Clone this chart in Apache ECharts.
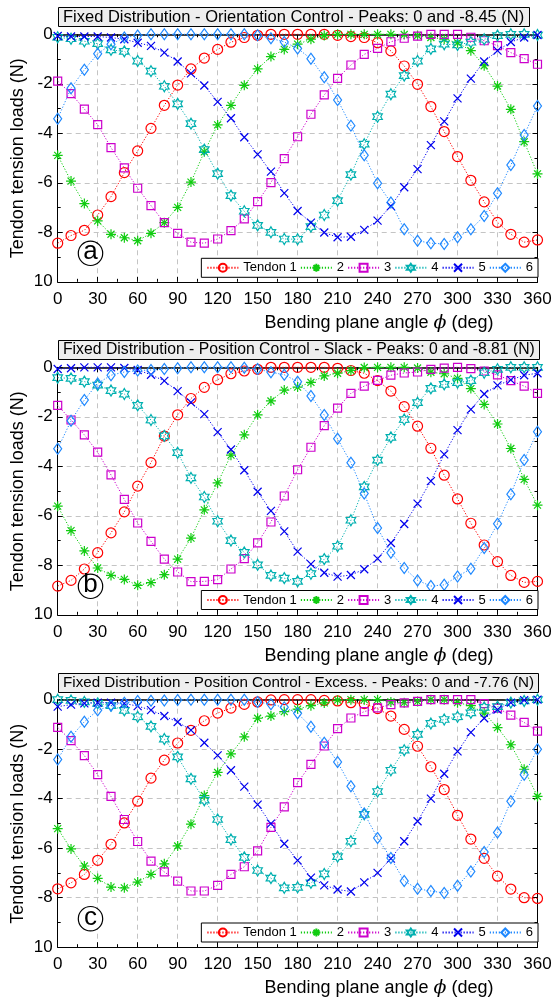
<!DOCTYPE html>
<html><head><meta charset="utf-8">
<script src="https://cdn.jsdelivr.net/npm/echarts@6/dist/echarts.min.js"></script>
<style>html,body{margin:0;padding:0;background:#fff}#c{width:553px;height:1002px}</style>
</head><body><div id="c"></div>
<script>
// ---------- data ----------
const angles = [0,10,20,30,40,50,60,70,80,90,100,110,120,130,140,150,160,170,180,190,200,210,220,230,240,250,260,270,280,290,300,310,320,330,340,350,360];
const xTickLabels = ['0','30','60','90','120','150','180','210','240','270','300','330','360'];
const yTickValues = [0,-2,-4,-6,-8,-10];
const yTickLabels = ['0','-2','-4','-6','-8','10'];
const tendonNames = ['Tendon 1','2','3','4','5','6'];
const panelTitles = [
  'Fixed Distribution - Orientation Control - Peaks: 0 and -8.45 (N)',
  'Fixed Distribution - Position Control - Slack - Peaks: 0 and -8.81 (N)',
  'Fixed Distribution - Position Control - Excess. - Peaks: 0 and -7.76 (N)'
];
const panelLetters = ['a','b','c'];
const yAxisName = 'Tendon tension loads (N)';

// panel a : orientation control
const aT1 = [-8.44,-8.13,-7.92,-7.30,-6.56,-5.59,-4.71,-3.80,-2.87,-2.05,-1.40,-0.96,-0.61,-0.32,-0.13,-0.04,0,0,0,0,0,-0.04,-0.09,-0.13,-0.34,-0.67,-1.28,-2.02,-2.92,-3.93,-4.94,-5.90,-6.77,-7.60,-8.08,-8.40,-8.31];
const aT2 = [-4.89,-5.93,-6.84,-7.54,-8.08,-8.22,-8.34,-8.04,-7.61,-6.99,-5.97,-4.75,-3.66,-2.87,-2.06,-1.40,-0.90,-0.61,-0.40,-0.20,-0.05,0,0,0,0,0,-0.01,-0.05,-0.13,-0.20,-0.34,-0.66,-1.27,-2.09,-3.03,-4.34,-5.64];
const aT3 = [-1.89,-2.40,-3.02,-3.65,-4.58,-5.40,-6.22,-6.92,-7.61,-8.04,-8.40,-8.44,-8.27,-7.93,-7.46,-6.76,-5.99,-5.02,-4.14,-3.23,-2.45,-1.78,-1.24,-0.81,-0.57,-0.30,-0.16,-0.07,0,0,0,-0.12,-0.26,-0.46,-0.74,-0.98,-1.21];
const aT4 = [-0.12,-0.18,-0.28,-0.38,-0.63,-0.69,-1.08,-1.49,-2.10,-2.81,-3.61,-4.66,-5.63,-6.52,-7.15,-7.72,-8.00,-8.27,-8.28,-7.77,-7.30,-6.72,-5.67,-4.44,-3.33,-2.42,-1.67,-1.08,-0.59,-0.40,-0.43,-0.32,-0.20,-0.05,0,0,-0.03];
const aT5 = [-0.07,-0.09,-0.09,-0.09,-0.13,-0.20,-0.34,-0.47,-0.74,-1.10,-1.58,-2.07,-2.73,-3.39,-4.16,-4.85,-5.55,-6.42,-7.14,-7.61,-8.01,-8.20,-8.18,-7.90,-7.53,-6.94,-6.18,-5.45,-4.48,-3.52,-2.59,-1.79,-1.10,-0.66,-0.31,-0.13,-0.03];
const aT6 = [-3.41,-2.18,-1.43,-0.79,-0.40,-0.13,-0.05,0,0,0,0,0,0,0,0,-0.04,-0.16,-0.31,-0.57,-0.99,-1.74,-2.65,-3.69,-4.89,-6.02,-6.80,-7.88,-8.34,-8.44,-8.47,-8.20,-7.88,-7.34,-6.42,-5.28,-4.07,-2.90];

// panel b : position control, slack
const bT1 = [-8.84,-8.61,-8.15,-7.49,-6.69,-5.84,-4.80,-3.85,-2.78,-1.92,-1.26,-0.81,-0.50,-0.26,-0.15,-0.08,0,0,0,0,0,-0.04,-0.13,-0.24,-0.54,-0.96,-1.59,-2.38,-3.27,-4.36,-5.32,-6.30,-7.18,-7.85,-8.41,-8.69,-8.65];
const bT2 = [-5.61,-6.60,-7.42,-8.11,-8.41,-8.57,-8.81,-8.70,-8.38,-7.75,-6.90,-5.76,-4.67,-3.55,-2.73,-1.92,-1.36,-0.92,-0.80,-0.61,-0.35,-0.24,-0.13,-0.01,0,0,0,-0.03,-0.20,-0.26,-0.45,-0.86,-1.50,-2.29,-3.28,-4.53,-5.57];
const bT3 = [-1.54,-2.13,-2.73,-3.43,-4.35,-5.34,-6.29,-7.03,-7.75,-8.27,-8.66,-8.65,-8.58,-8.15,-7.73,-7.09,-6.25,-5.20,-4.14,-3.23,-2.36,-1.65,-1.05,-0.76,-0.53,-0.32,-0.23,-0.19,-0.08,-0.03,0,-0.05,-0.15,-0.31,-0.54,-0.76,-1.05];
const bT4 = [-0.42,-0.45,-0.58,-0.72,-0.94,-1.08,-1.54,-2.13,-2.77,-3.45,-4.47,-5.24,-6.22,-7.00,-7.48,-7.98,-8.41,-8.52,-8.65,-8.34,-7.75,-7.23,-6.18,-4.83,-3.75,-2.83,-2.11,-1.43,-0.85,-0.69,-0.62,-0.54,-0.22,-0.08,0,0,0];
const bT5 = [-0.07,-0.04,0,0,0,-0.03,-0.11,-0.30,-0.55,-0.96,-1.42,-1.89,-2.62,-3.32,-4.16,-5.03,-5.80,-6.63,-7.45,-7.95,-8.30,-8.46,-8.39,-8.16,-7.73,-7.10,-6.33,-5.51,-4.60,-3.52,-2.54,-1.70,-1.08,-0.73,-0.51,-0.32,-0.24];
const bT6 = [-3.29,-2.16,-1.32,-0.65,-0.32,-0.19,-0.13,-0.11,-0.07,-0.04,0,0,0,0,-0.02,-0.07,-0.20,-0.30,-0.58,-1.16,-1.93,-2.89,-3.86,-5.10,-6.49,-7.49,-8.11,-8.61,-8.84,-8.79,-8.45,-8.14,-7.30,-6.32,-5.13,-3.75,-2.60];

// panel c : position control, excess
const cT1 = [-7.64,-7.40,-7.06,-6.49,-5.84,-4.98,-4.10,-3.17,-2.44,-1.75,-1.24,-0.85,-0.54,-0.34,-0.19,-0.09,-0.01,0,0,0,-0.03,-0.05,-0.12,-0.16,-0.36,-0.66,-1.20,-1.88,-2.71,-3.63,-4.67,-5.63,-6.41,-7.13,-7.65,-8.00,-8.03];
const cT2 = [-5.21,-6.03,-6.72,-7.22,-7.57,-7.60,-7.37,-7.06,-6.63,-5.91,-5.03,-3.87,-2.94,-2.19,-1.50,-0.75,-0.66,-0.48,-0.38,-0.24,-0.13,-0.02,0,0,0,-0.09,-0.12,-0.07,0,0,-0.12,-0.24,-0.54,-1.13,-1.82,-2.81,-3.91];
const cT3 = [-1.12,-1.65,-2.26,-3.03,-3.91,-4.84,-5.73,-6.52,-6.96,-7.33,-7.73,-7.73,-7.50,-7.06,-6.75,-6.11,-5.16,-4.33,-3.35,-2.61,-1.87,-1.17,-0.74,-0.48,-0.33,-0.20,-0.13,-0.07,0,0,0,0,-0.16,-0.34,-0.62,-0.92,-1.27];
const cT4 = [0,-0.03,-0.09,-0.15,-0.24,-0.43,-0.69,-1.08,-1.59,-2.31,-3.20,-4.06,-4.84,-5.65,-6.37,-6.90,-7.21,-7.60,-7.58,-7.40,-7.04,-6.34,-5.72,-4.63,-3.71,-2.85,-2.04,-1.40,-0.96,-0.80,-0.69,-0.53,-0.31,-0.28,-0.12,-0.05,0];
const cT5 = [-0.28,-0.20,-0.15,-0.12,-0.12,-0.15,-0.26,-0.42,-0.66,-0.90,-1.23,-1.74,-2.25,-2.85,-3.51,-4.24,-5.01,-5.82,-6.49,-7.19,-7.50,-7.67,-7.75,-7.38,-7.00,-6.42,-5.72,-4.91,-4.00,-2.99,-2.09,-1.32,-0.75,-0.40,-0.12,-0.02,0];
const cT6 = [-2.42,-1.50,-0.89,-0.43,-0.24,-0.12,-0.05,-0.04,-0.03,-0.01,0,0,0,0,0,-0.09,-0.18,-0.31,-0.55,-1.09,-1.74,-2.52,-3.50,-4.60,-5.59,-6.40,-7.33,-7.64,-7.73,-7.81,-7.52,-6.94,-6.15,-5.37,-4.10,-3.03,-2.00];

const panels = [[aT1,aT2,aT3,aT4,aT5,aT6],[bT1,bT2,bT3,bT4,bT5,bT6],[cT1,cT2,cT3,cT4,cT5,cT6]];

// ---------- styles ----------
const FONT = 'Liberation Sans, Arial, sans-serif';
const colors = ['#ff0000','#11cc11','#cc00cc','#00b0b0','#0000ee','#1e88ff'];
function hexPath(){
  let p = '';
  for (let k = 0; k < 12; k++) {
    const a = (-90 + k*30) * Math.PI/180;
    const r = k % 2 === 0 ? 10 : 5.8;
    p += (k === 0 ? 'M' : 'L') + (r*Math.cos(a)).toFixed(2) + ',' + (r*Math.sin(a)).toFixed(2);
  }
  return 'path://' + p + 'Z';
}
const symbols = [
  {symbol:'circle', size:10, keep:false},
  {symbol:'path://M0,-10L0,10M-10,0L10,0M-7,-7L7,7M-7,7L7,-7', size:10, keep:true},
  {symbol:'rect', size:8, keep:false},
  {symbol:hexPath(), size:[11,11], keep:true},
  {symbol:'path://M-10,-10L10,10M-10,10L10,-10', size:8, keep:true},
  {symbol:'diamond', size:[8,11], keep:false}
];

const gridLeft = 57.7, gridWidth = 479.8, gridHeight = 247.5;
const gridTops = [34.3, 367.3, 699.7];
const titleTops = [7, 340, 673];
const titleFontSizes = [16.5, 15.75, 15.2];
const legendTops = [258.3, 590.5, 923];

const chart = echarts.init(document.getElementById('c'), null, {renderer:'canvas'});
const grid = [], xAxis = [], yAxis = [], series = [], title = [], legend = [], graphic = [];

gridTops.forEach((top, i) => {
  grid.push({left:gridLeft, top:top, width:gridWidth, height:gridHeight, outerBoundsMode:'none', containLabel:false, show:false});
  const tickStyle = {color:'#000', width:1};
  xAxis.push({type:'value', gridIndex:i, position:'bottom', min:0, max:360, interval:30,
    axisLine:{show:true, onZero:false, lineStyle:{color:'#000', width:1}},
    axisTick:{show:true, inside:true, length:5, lineStyle:tickStyle},
    minorTick:{show:true, splitNumber:2, length:3, lineStyle:tickStyle},
    splitLine:{show:true, lineStyle:{color:'#c4c4c4', width:1, type:[5,4]}},
    axisLabel:{show:true, margin:9, color:'#000', fontSize:17, fontFamily:FONT,
      formatter:(v)=>{const k = Math.round(v/30); return xTickLabels[k] !== undefined ? xTickLabels[k] : '';}}
  });
  xAxis.push({type:'value', gridIndex:i, position:'top', min:0, max:360, interval:30,
    axisLine:{show:true, onZero:false, lineStyle:{color:'#000', width:1.6}},
    axisTick:{show:true, inside:true, length:5, lineStyle:tickStyle},
    minorTick:{show:true, splitNumber:2, length:3, lineStyle:tickStyle},
    splitLine:{show:false}, axisLabel:{show:false}
  });
  yAxis.push({type:'value', gridIndex:i, position:'left', min:-10, max:0, interval:2,
    axisLine:{show:true, onZero:false, lineStyle:{color:'#000', width:1}},
    axisTick:{show:true, inside:true, length:5, lineStyle:tickStyle},
    minorTick:{show:true, splitNumber:2, length:3, lineStyle:tickStyle},
    splitLine:{show:true, lineStyle:{color:'#c4c4c4', width:1, type:[5,4]}},
    axisLabel:{show:true, margin:5, color:'#000', fontSize:17, fontFamily:FONT,
      formatter:(v)=>{const k = yTickValues.indexOf(Math.round(v)); return k >= 0 ? yTickLabels[k] : '';}}
  });
  yAxis.push({type:'value', gridIndex:i, position:'right', min:-10, max:0, interval:2,
    axisLine:{show:true, onZero:false, lineStyle:{color:'#000', width:1}},
    axisTick:{show:true, inside:true, length:5, lineStyle:tickStyle},
    minorTick:{show:true, splitNumber:2, length:3, lineStyle:tickStyle},
    splitLine:{show:false}, axisLabel:{show:false}
  });

  panels[i].forEach((arr, s) => {
    series.push({
      type:'line', name:tendonNames[s], xAxisIndex:2*i, yAxisIndex:2*i,
      data: angles.map((a, k) => [a, arr[k]]),
      symbol:symbols[s].symbol, symbolSize:symbols[s].size, symbolKeepAspect:symbols[s].keep,
      showAllSymbol:true, clip:false,
      lineStyle:{color:colors[s], width:1, type:[1.2,1.8]},
      itemStyle:{color:'rgba(255,255,255,0)', borderColor:colors[s], borderWidth:1.2},
      emphasis:{disabled:true}, silent:true, z:2+s
    });
  });

  title.push({text:panelTitles[i], left:58, top:titleTops[i], padding:[1,5,1,5],
    backgroundColor:'#eeeeee', borderColor:'#000', borderWidth:1,
    textStyle:{fontSize:titleFontSizes[i], fontWeight:'normal', color:'#000', fontFamily:FONT, lineHeight:18}});

  legend.push({data:tendonNames, right:15, top:legendTops[i], orient:'horizontal',
    itemWidth:31, itemHeight:10, itemGap:3, padding:[3,5,3,5],
    backgroundColor:'#fff', borderColor:'#000', borderWidth:1, borderRadius:0,
    textStyle:{fontSize:13, color:'#000', fontFamily:FONT}, selectedMode:false, z:20});

  const bottom = top + gridHeight;
  graphic.push({type:'circle', shape:{cx:90.5, cy:bottom-28.5, r:12.2},
    style:{fill:'#fff', stroke:'#000', lineWidth:1.2}, z:15});
  graphic.push({type:'text', x:90.5, y:bottom-29.5, z:16,
    style:{text:panelLetters[i], fontSize:26, fontFamily:FONT, fill:'#000', align:'center', verticalAlign:'middle'}});
  graphic.push({type:'text', x:18, y:top+124, rotation:Math.PI/2, z:16,
    style:{text:yAxisName, fontSize:18, fontFamily:FONT, fill:'#000', align:'center', verticalAlign:'middle'}});
  graphic.push({type:'text', x:379, y:bottom+41, z:16,
    style:{text:'{n|Bending plane angle }{p|ϕ}{n| (deg)}', align:'center', verticalAlign:'middle',
      rich:{n:{fontSize:18, fontFamily:FONT, fill:'#000', color:'#000'}, p:{fontSize:19, fontFamily:'DejaVu Serif', fontStyle:'italic', fill:'#000', color:'#000'}}}});
});

chart.setOption({
  animation:false, backgroundColor:'#fff',
  grid, xAxis, yAxis, series, title, legend, graphic,
  tooltip:{show:false}
});
</script>
</body></html>
